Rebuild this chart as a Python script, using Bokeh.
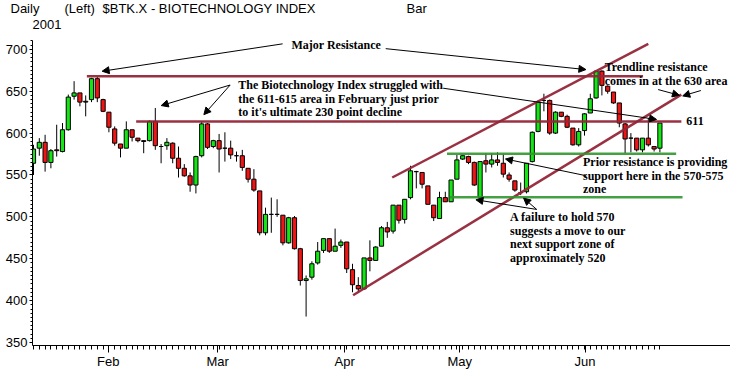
from bokeh.plotting import figure
from bokeh.layouts import column
from bokeh.models import (ColumnDataSource, Range1d, FixedTicker, SingleIntervalTicker,
                          Label, Arrow, NormalHead)
from bokeh.core.properties import value
from bokeh.embed import file_html
from bokeh.resources import INLINE

# ---------------- data ----------------
opens = [564, 582, 589, 565, 580, 578, 604, 644, 648, 638, 640, 665, 640, 625, 605, 587, 582, 604, 594, 591,
         591, 614, 584, 585, 588, 570, 558, 549, 538, 573, 611, 584, 591, 582, 582, 573, 573, 558, 545, 531,
         481, 503, 503, 502, 469, 499, 462, 424, 428, 445, 460, 474, 459, 466, 470, 437, 418, 414, 451, 448,
         465, 487, 483, 514, 497, 523, 554, 553, 537, 514, 498, 523, 518, 545, 569, 572, 565, 523, 567, 563,
         568, 564, 550, 543, 529, 530, 566, 602, 639, 639, 600, 625, 620, 606, 586, 603, 624, 642, 674, 656,
         649, 636, 611, 594, 594, 580, 594, 584, 582]
highs = [586, 594, 598, 581, 610, 612, 646, 662, 648, 645, 666, 667, 641, 625, 608, 587, 614, 604, 594, 591,
         615, 630, 587, 594, 589, 584, 563, 553, 573, 614, 612, 592, 599, 601, 591, 578, 580, 558, 557, 531,
         511, 523, 521, 502, 500, 501, 463, 430, 447, 470, 474, 474, 486, 473, 470, 444, 428, 451, 472, 465,
         489, 494, 514, 514, 521, 561, 555, 553, 537, 514, 530, 530, 544, 574, 574, 573, 566, 566, 576, 576,
         577, 575, 553, 543, 541, 564, 602, 639, 647, 640, 626, 625, 622, 606, 606, 624, 647, 674, 675, 657,
         649, 636, 612, 600, 594, 594, 618, 584, 612]
lows = [550, 573, 554, 558, 572, 577, 603, 640, 632, 620, 637, 637, 625, 601, 585, 571, 582, 590, 589, 576,
        590, 580, 564, 580, 564, 547, 548, 530, 528, 571, 581, 582, 553, 566, 569, 566, 555, 541, 530, 478,
        478, 481, 500, 466, 468, 461, 418, 381, 425, 443, 457, 457, 459, 463, 433, 410, 410, 413, 435, 448,
        465, 475, 480, 492, 492, 521, 534, 534, 515, 495, 498, 518, 518, 545, 568, 563, 537, 522, 553, 559,
        561, 547, 542, 530, 526, 528, 565, 601, 626, 598, 599, 619, 606, 585, 584, 597, 624, 641, 645, 647,
        635, 607, 576, 577, 578, 577, 584, 578, 577]
closes = [581, 589, 565, 579, 579, 604, 643, 648, 637, 637, 665, 642, 626, 607, 588, 582, 604, 595, 591, 590,
          614, 585, 584, 589, 570, 558, 549, 538, 572, 611, 583, 591, 581, 582, 574, 573, 559, 545, 532, 481,
          503, 503, 503, 469, 499, 462, 424, 426, 444, 459, 474, 459, 465, 470, 438, 419, 414, 451, 448, 464,
          487, 482, 514, 496, 521, 555, 554, 539, 515, 499, 523, 518, 544, 568, 573, 565, 538, 566, 563, 568,
          565, 551, 545, 532, 529, 564, 601, 637, 639, 600, 625, 620, 607, 586, 602, 623, 641, 674, 657, 650,
          636, 612, 593, 594, 580, 594, 586, 581, 612]

month_labels = ["Feb", "Mar", "Apr", "May", "Jun"]
month_start_index = [12.9, 31.75, 53.65, 73.5, 95.1]

header_texts = ["Daily", "(Left)", "$BTK.X - BIOTECHNOLOGY INDEX", "Bar", "2001"]

# analyst drawings, in (bar index, price): start index, start price, end index, end price
resistance_lines = {
    "major_668": (9.2, 668, 105.1, 668),
    "feb_614": (17.7, 614, 111.7, 614),
    "channel_upper": (61.85, 547, 106.0, 706.5),
    "channel_lower": (55.1, 406.5, 111.7, 646),
}
support_lines = {
    "support_575": (71.3, 575.3, 110.8, 575.3),
    "support_523": (71.8, 523.5, 111.9, 523.5),
}

# ---------------- layout constants (pixels) ----------------
W = 730
HEAD_H = 32                    # header strip
H = 339                        # chart figure
LEFT, BOTTOM = 32, 23          # axis panels
PX0, PXSTEP = 33.0, 5.80       # x of bar 0, px per bar
PY700, PYSTEP = 17.0, 0.8457   # y (inside chart figure) of price 700, px per point


def fig_to_data(fx, fy):
    return (fx - PX0) / PXSTEP, 700 - (fy - PY700) / PYSTEP


def ref_to_data(rx, ry):
    # position measured on the reference picture -> (bar index, price)
    return (rx - 32) / 5.89, 700 - (ry - 49) / 0.8686


# ---------------- header strip ----------------
head = figure(width=W, height=HEAD_H, output_backend="svg", toolbar_location=None,
              x_range=Range1d(0, W), y_range=Range1d(HEAD_H, 0),
              x_axis_location=None, y_axis_location=None,
              min_border_left=0, min_border_right=0, min_border_top=0, min_border_bottom=0)
head.frame_align = False
head.outline_line_color = None
head.xgrid.visible = False
head.ygrid.visible = False
hsrc = ColumnDataSource(dict(x=[10, 64, 102, 406, 32], y=[8, 8, 8, 8, 24], t=header_texts))
head.text(x="x", y="y", text="t", source=hsrc, text_font=value("Liberation Sans"),
          text_font_size="13px", text_color="black", text_baseline="middle", text_align="left")

# ---------------- chart ----------------
x0, _ = fig_to_data(LEFT, 0)
x1, _ = fig_to_data(W, 0)
_, y0 = fig_to_data(0, H - BOTTOM)
_, y1 = fig_to_data(0, 0)

p = figure(width=W, height=H, output_backend="svg", toolbar_location=None,
           x_range=Range1d(x0, x1), y_range=Range1d(y0, y1),
           min_border_left=LEFT, min_border_right=0, min_border_top=0, min_border_bottom=BOTTOM)
p.frame_align = False
p.outline_line_color = None
p.xgrid.visible = False
p.ygrid.visible = False
p.background_fill_color = "white"
p.border_fill_color = "white"

GREEN = "#14e614"
RED = "#f01414"

ya = p.yaxis[0]
ya.ticker = SingleIntervalTicker(interval=50, num_minor_ticks=10)
ya.bounds = (y0, 710)
ya.major_tick_out = 3
ya.major_tick_in = 0
ya.minor_tick_out = 2
ya.minor_tick_in = 0
ya.major_label_standoff = 2
ya.major_label_text_font = "Liberation Sans"
ya.major_label_text_font_size = "13px"
ya.major_label_text_color = "black"
ya.axis_line_color = "black"

xa = p.xaxis[0]
xa.ticker = FixedTicker(ticks=month_start_index, minor_ticks=list(range(len(opens))))
xa.major_label_overrides = {t: lab for t, lab in zip(month_start_index, month_labels)}
xa.major_tick_out = 7
xa.major_tick_in = 0
xa.minor_tick_out = 4
xa.minor_tick_in = 0
xa.major_label_standoff = 1
xa.major_label_text_font = "Liberation Sans"
xa.major_label_text_font_size = "13px"
xa.major_label_text_color = "black"

# candles
idx = list(range(len(opens)))
src = ColumnDataSource(dict(
    i=idx, high=highs, low=lows,
    top=[max(o, c) for o, c in zip(opens, closes)],
    bottom=[min(o, c) for o, c in zip(opens, closes)],
    color=[GREEN if c > o else RED for o, c in zip(opens, closes)],
))
p.segment(x0="i", y0="high", x1="i", y1="low", source=src, line_color="black", line_width=1)
p.vbar(x="i", width=0.72, top="top", bottom="bottom", source=src,
       fill_color="color", line_color="black", line_width=1)

# analyst lines
rl = list(resistance_lines.values())
p.segment(x0=[s[0] for s in rl], y0=[s[1] for s in rl], x1=[s[2] for s in rl], y1=[s[3] for s in rl],
          line_color="#942638", line_width=2.5, line_alpha=0.95)
sl = list(support_lines.values())
p.segment(x0=[s[0] for s in sl], y0=[s[1] for s in sl], x1=[s[2] for s in sl], y1=[s[3] for s in sl],
          line_color="#2f962f", line_width=2.5, line_alpha=0.9)

# arrows (positions measured on the reference picture)
arrow_px = [
    ((285, 43.3), (101.7, 71.7)),
    ((389.7, 48.3), (593, 70)),
    ((231.7, 86), (161.7, 107.3)),
    ((231.7, 86), (205, 116.7)),
    ((448, 89.3), (664.7, 121.7)),
    ((666.3, 90.7), (688, 96.7)),
    ((709.7, 91.7), (691.3, 97.3)),
    ((593, 180), (511.3, 162.7)),
    ((543, 215), (481.3, 205)),
    ((543, 215), (529.7, 203.3)),
]
a0 = [ref_to_data(*a) for a, b in arrow_px]
a1 = [ref_to_data(*b) for a, b in arrow_px]
asrc = ColumnDataSource(dict(x0=[a[0] for a in a0], y0=[a[1] for a in a0],
                             x1=[b[0] for b in a1], y1=[b[1] for b in a1]))
p.add_layout(Arrow(end=NormalHead(size=7, fill_color="black", line_color="black", line_width=1),
                   x_start="x0", y_start="y0", x_end="x1", y_end="y1", source=asrc,
                   line_color="black", line_width=1))

# annotation text blocks: (ref x, ref y of first line, lines)
notes = [
    (294, 44, ["Major Resistance"]),
    (240, 86, ["The Biotechnology Index struggled with",
               "the 611-615 area in February just prior",
               "to it's ultimate 230 point decline"]),
    (612, 67.7, ["Trendline resistance", "comes in at the 630 area"]),
    (695, 123.3, ["611"]),
    (590, 166, ["Prior resistance is providing", "support here in the 570-575", "zone"]),
    (516, 223.3, ["A failure to hold 570", "suggests a move to our",
                  "next support zone of", "approximately 520"]),
]
for rx, ry, lines in notes:
    for k, line in enumerate(lines):
        x, y = ref_to_data(rx, ry + 14 * k)
        p.add_layout(Label(x=x, y=y, text=line, text_font="Liberation Serif", text_font_size="12px",
                           text_font_style="bold", text_color="black",
                           text_baseline="middle", text_align="left"))

layout = column(head, p, spacing=0)
open("out.html", "w").write(file_html(layout, INLINE))
